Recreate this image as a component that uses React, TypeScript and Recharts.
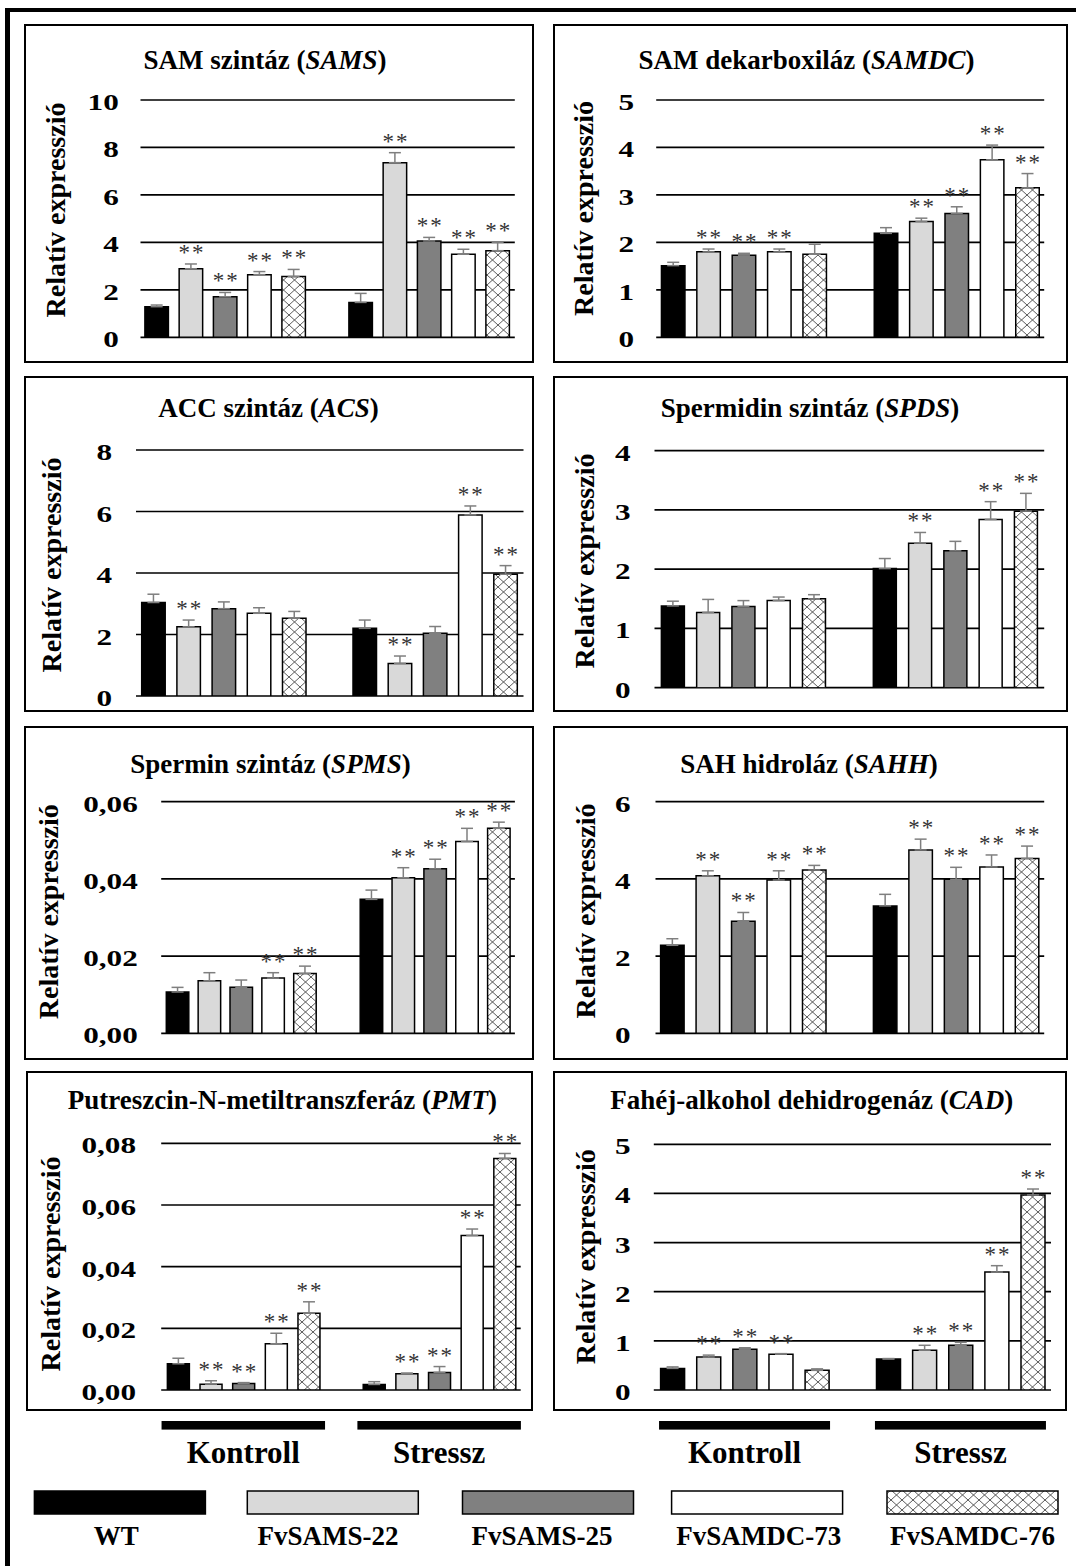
import React from "react";
import { Bar, BarChart, CartesianGrid, ErrorBar, XAxis, YAxis } from "recharts";

const FONT = '"Liberation Serif", "Times New Roman", serif';

const GROUPS = ["Kontroll", "Stressz"];
const SERIES = ["WT", "FvSAMS-22", "FvSAMS-25", "FvSAMDC-73", "FvSAMDC-76"];
const SERIES_FILLS = ["#000000", "#d9d9d9", "#808080", "#ffffff", "hatch"];

// SAM szintáz (SAMS)
const samsKontroll = [1.29, 2.89, 1.71, 2.64, 2.56];
const samsKontrollErr = [0.07, 0.2, 0.18, 0.13, 0.3];
const samsKontrollSig = [0, 1, 1, 1, 1];
const samsStressz = [1.47, 7.36, 4.06, 3.5, 3.65];
const samsStresszErr = [0.38, 0.42, 0.15, 0.21, 0.35];
const samsStresszSig = [0, 1, 1, 1, 1];
const samsTicks = [0, 2, 4, 6, 8, 10];

// SAM dekarboxiláz (SAMDC)
const samdcKontroll = [1.51, 1.8, 1.73, 1.8, 1.75];
const samdcKontrollErr = [0.07, 0.06, 0.04, 0.06, 0.21];
const samdcKontrollSig = [0, 1, 1, 1, 0];
const samdcStressz = [2.19, 2.44, 2.61, 3.74, 3.15];
const samdcStresszErr = [0.12, 0.07, 0.14, 0.31, 0.3];
const samdcStresszSig = [0, 1, 1, 1, 1];
const samdcTicks = [0, 1, 2, 3, 4, 5];

// ACC szintáz (ACS)
const acsKontroll = [3.04, 2.25, 2.84, 2.69, 2.53];
const acsKontrollErr = [0.27, 0.22, 0.22, 0.18, 0.22];
const acsKontrollSig = [0, 1, 0, 0, 0];
const acsStressz = [2.2, 1.06, 2.04, 5.89, 3.96];
const acsStresszErr = [0.27, 0.24, 0.22, 0.29, 0.28];
const acsStresszSig = [0, 1, 0, 1, 1];
const acsTicks = [0, 2, 4, 6, 8];

// Spermidin szintáz (SPDS)
const spdsKontroll = [1.38, 1.27, 1.37, 1.47, 1.5];
const spdsKontrollErr = [0.08, 0.22, 0.1, 0.06, 0.07];
const spdsKontrollSig = [0, 0, 0, 0, 0];
const spdsStressz = [2.01, 2.44, 2.31, 2.84, 2.98];
const spdsStresszErr = [0.17, 0.18, 0.16, 0.3, 0.3];
const spdsStresszSig = [0, 1, 0, 1, 1];
const spdsTicks = [0, 1, 2, 3, 4];

// Spermin szintáz (SPMS)
const spmsKontroll = [0.0107, 0.0136, 0.0119, 0.0143, 0.0155];
const spmsKontrollErr = [0.0012, 0.0021, 0.0019, 0.0014, 0.0019];
const spmsKontrollSig = [0, 0, 0, 1, 1];
const spmsStressz = [0.0347, 0.0403, 0.0426, 0.0497, 0.0531];
const spmsStresszErr = [0.0024, 0.0026, 0.0025, 0.0034, 0.0016];
const spmsStresszSig = [0, 1, 1, 1, 1];
const spmsTicks = [0, 0.02, 0.04, 0.06];

// SAH hidroláz (SAHH)
const sahhKontroll = [2.28, 4.08, 2.9, 3.97, 4.23];
const sahhKontrollErr = [0.17, 0.13, 0.23, 0.24, 0.12];
const sahhKontrollSig = [0, 1, 1, 1, 1];
const sahhStressz = [3.3, 4.75, 3.99, 4.31, 4.53];
const sahhStresszErr = [0.3, 0.28, 0.31, 0.31, 0.32];
const sahhStresszSig = [0, 1, 1, 1, 1];
const sahhTicks = [0, 2, 4, 6];

// Putreszcin-N-metiltranszferáz (PMT)
const pmtKontroll = [0.0085, 0.0019, 0.0021, 0.015, 0.0249];
const pmtKontrollErr = [0.0018, 0.0011, 0.0003, 0.0034, 0.0037];
const pmtKontrollSig = [0, 1, 1, 1, 1];
const pmtStressz = [0.0018, 0.0053, 0.0057, 0.0501, 0.0751];
const pmtStresszErr = [0.0009, 0.0002, 0.0019, 0.0021, 0.0016];
const pmtStresszSig = [0, 1, 1, 1, 1];
const pmtTicks = [0, 0.02, 0.04, 0.06, 0.08];

// Fahéj-alkohol dehidrogenáz (CAD)
const cadKontroll = [0.44, 0.67, 0.83, 0.73, 0.4];
const cadKontrollErr = [0.03, 0.04, 0.03, 0.01, 0.03];
const cadKontrollSig = [0, 1, 1, 1, 0];
const cadStressz = [0.63, 0.81, 0.91, 2.4, 3.97];
const cadStresszErr = [0.01, 0.1, 0.06, 0.13, 0.12];
const cadStresszSig = [0, 1, 1, 1, 1];
const cadTicks = [0, 1, 2, 3, 4, 5];

// layout of each panel, page pixels: box = border, plot = grid area
const PANELS = [
  { id: "sams", title: ["SAM szintáz (", "SAMS", ")"], k: samsKontroll, ke: samsKontrollErr, ks: samsKontrollSig, s: samsStressz, se: samsStresszErr, ss: samsStresszSig, ticks: samsTicks, comma: false,
    box: [25, 25, 533, 362], plot: [140.5, 100, 514.8, 337.3], centers: [224.9, 428.9], barW: 23.5, groupW: 160.5, tickRight: 118.8, yLabel: [60.3, 210], titleAt: [265, 68.5] },
  { id: "samdc", title: ["SAM dekarboxiláz (", "SAMDC", ")"], k: samdcKontroll, ke: samdcKontrollErr, ks: samdcKontrollSig, s: samdcStressz, se: samdcStresszErr, ss: samdcStresszSig, ticks: samdcTicks, comma: false,
    box: [554, 25, 1067, 362], plot: [656.2, 100, 1044.2, 337.3], centers: [743.85, 956.65], barW: 23.5, groupW: 165, tickRight: 634, yLabel: [587.9, 208.5], titleAt: [806.6, 68.5] },
  { id: "acs", title: ["ACC szintáz (", "ACS", ")"], k: acsKontroll, ke: acsKontrollErr, ks: acsKontrollSig, s: acsStressz, se: acsStresszErr, ss: acsStresszSig, ticks: acsTicks, comma: false,
    box: [25, 377, 533, 711], plot: [136, 450, 523.5, 696], centers: [224.35, 435.65], barW: 23.5, groupW: 164.3, tickRight: 112, yLabel: [55.8, 565], titleAt: [268.6, 417] },
  { id: "spds", title: ["Spermidin szintáz (", "SPDS", ")"], k: spdsKontroll, ke: spdsKontrollErr, ks: spdsKontrollSig, s: spdsStressz, se: spdsStresszErr, ss: spdsStresszSig, ticks: spdsTicks, comma: false,
    box: [554, 377, 1067, 711], plot: [654.5, 450.7, 1044.2, 687.7], centers: [743.35, 955.3], barW: 23, groupW: 164.1, tickRight: 630.6, yLabel: [588.5, 561], titleAt: [810, 417] },
  { id: "spms", title: ["Spermin szintáz (", "SPMS", ")"], k: spmsKontroll, ke: spmsKontrollErr, ks: spmsKontrollSig, s: spmsStressz, se: spmsStresszErr, ss: spmsStresszSig, ticks: spmsTicks, comma: true,
    box: [25, 727, 533, 1059], plot: [161.2, 801.7, 514.9, 1033.3], centers: [241.25, 435.15], barW: 22.5, groupW: 149.9, tickRight: 137.8, yLabel: [53.4, 911.7], titleAt: [270.4, 773] },
  { id: "sahh", title: ["SAH hidroláz (", "SAHH", ")"], k: sahhKontroll, ke: sahhKontrollErr, ks: sahhKontrollSig, s: sahhStressz, se: sahhStresszErr, ss: sahhStresszSig, ticks: sahhTicks, comma: false,
    box: [554, 727, 1067, 1059], plot: [655.5, 801.7, 1044.2, 1033.3], centers: [743, 955.8], barW: 23.5, groupW: 165.4, tickRight: 630.6, yLabel: [589.6, 911], titleAt: [809, 773] },
  { id: "pmt", title: ["Putreszcin-N-metiltranszferáz (", "PMT", ")"], k: pmtKontroll, ke: pmtKontrollErr, ks: pmtKontrollSig, s: pmtStressz, se: pmtStresszErr, ss: pmtStresszSig, ticks: pmtTicks, comma: true,
    box: [27, 1072, 532, 1410], plot: [161.2, 1143.3, 520.7, 1390], centers: [243.3, 439.15], barW: 22, groupW: 152.6, tickRight: 136, yLabel: [55, 1264], titleAt: [282.4, 1109], groupBarW: 163.5 },
  { id: "cad", title: ["Fahéj-alkohol dehidrogenáz (", "CAD", ")"], k: cadKontroll, ke: cadKontrollErr, ks: cadKontrollSig, s: cadStressz, se: cadStresszErr, ss: cadStresszSig, ticks: cadTicks, comma: false,
    box: [554, 1072, 1066, 1410], plot: [653.8, 1144.3, 1051, 1390], centers: [744.55, 960.45], barW: 24, groupW: 168.5, tickRight: 630.6, yLabel: [589.6, 1256.7], titleAt: [811.8, 1109], groupBarW: 171 },
];

const LEGEND_X = [34.4, 247.3, 462.5, 671.6, 887];
const LEGEND_LABEL_X = [116.2, 328, 542, 758.8, 972.4];
const GROUP_BAR_Y = 1421;
const GROUP_LABEL_Y = 1462.7;
const CHART_BOTTOM_WITH_GROUPS = 1475;

function buildRows(p) {
  return GROUPS.map((g, gi) => {
    const vals = gi === 0 ? p.k : p.s;
    const errs = gi === 0 ? p.ke : p.se;
    const sig = gi === 0 ? p.ks : p.ss;
    const row: any = { group: g };
    SERIES.forEach((_, i) => {
      row[`s${i}`] = vals[i];
      row[`s${i}e`] = [0, errs[i]];
      row[`s${i}sig`] = sig[i];
    });
    return row;
  });
}

function Hatch({ id }: { id: string }) {
  return (
    <pattern id={id} patternUnits="userSpaceOnUse" width={11} height={10}>
      <rect width={11} height={10} fill="#fff" />
      <path d="M0,0 L11,10 M11,0 L0,10" stroke="#4a4a4a" strokeWidth={0.9} />
    </pattern>
  );
}

function starLabel(rows, key) {
  return (props: any) => {
    const vb = props.viewBox || {};
    const x = vb.x ?? props.x;
    const y = vb.y ?? props.y;
    const width = vb.width ?? props.width;
    const height = Math.abs(vb.height ?? props.height);
    let idx = props.index;
    if (idx === undefined) idx = rows.findIndex((r) => r[key] === props.value);
    const row = rows[idx];
    if (!row || !row[`${key}sig`]) return null;
    const pxPerUnit = height / row[key];
    const top = y - row[`${key}e`][1] * pxPerUnit;
    return (
      <text
        x={x + width / 2 + 1}
        y={top - 4}
        textAnchor="middle"
        fontSize={23}
        letterSpacing={2}
        fill="#333"
        fontFamily={FONT}
      >
        **
      </text>
    );
  };
}

function Panel({ p }) {
  const [bl, bt, br, bb] = p.box;
  const [pl, pt, pr, pb] = p.plot;
  const hasGroups = !!p.groupBarW;
  const chartBottom = hasGroups ? CHART_BOTTOM_WITH_GROUPS : bb;
  const band = p.centers[1] - p.centers[0];
  const padL = p.centers[0] - band / 2 - pl;
  const padR = pr - (p.centers[1] + band / 2);
  const gap = (p.groupW - 5 * p.barW) / 4;
  const rows = buildRows(p);
  const hatchId = `hatch-${p.id}`;
  const tickRight = p.tickRight - bl;
  const max = p.ticks[p.ticks.length - 1];

  const yTick = (props: any) => {
    const v = props.payload.value;
    const label = p.comma ? v.toFixed(2).replace(".", ",") : String(v);
    return (
      <g transform={`translate(${tickRight},${props.y + 10})`}>
        <text transform="scale(1.3,1)" textAnchor="end" fontSize={24} fontWeight="bold" fontFamily={FONT} fill="#000">
          {label}
        </text>
      </g>
    );
  };

  const xTick = (props: any) => {
    const w = p.groupBarW;
    return (
      <g>
        <rect x={props.x - w / 2} y={GROUP_BAR_Y - bt} width={w} height={8.6} fill="#000" />
        <text x={props.x} y={GROUP_LABEL_Y - bt} textAnchor="middle" fontSize={31} fontWeight="bold" fontFamily={FONT} fill="#000">
          {props.payload.value}
        </text>
      </g>
    );
  };

  return (
    <>
      <div
        style={{
          position: "absolute",
          left: bl - 1,
          top: bt - 1,
          width: br - bl + 2,
          height: bb - bt + 2,
          border: "2px solid #000",
          boxSizing: "border-box",
        }}
      />
      <div style={{ position: "absolute", left: bl, top: bt }}>
        <BarChart
          width={br - bl}
          height={chartBottom - bt}
          data={rows}
          barGap={gap}
          margin={{ top: pt - bt, right: br - pr, bottom: hasGroups ? 0 : bb - pb, left: 0 }}
        >
          <defs>
            <Hatch id={hatchId} />
          </defs>
          <CartesianGrid vertical={false} stroke="#000" strokeWidth={1.7} />
          <XAxis
            dataKey="group"
            hide={!hasGroups}
            height={chartBottom - pb}
            padding={{ left: padL, right: padR }}
            axisLine={false}
            tickLine={false}
            interval={0}
            tick={xTick}
          />
          <YAxis
            type="number"
            domain={[0, max]}
            ticks={p.ticks}
            allowDataOverflow
            interval={0}
            width={pl - bl}
            axisLine={false}
            tickLine={false}
            tick={yTick}
          />
          {SERIES.map((name, i) => (
            <Bar
              key={name}
              dataKey={`s${i}`}
              name={name}
              barSize={p.barW}
              fill={SERIES_FILLS[i] === "hatch" ? `url(#${hatchId})` : SERIES_FILLS[i]}
              stroke="#000"
              strokeWidth={1.5}
              isAnimationActive={false}
              label={starLabel(rows, `s${i}`)}
            >
              <ErrorBar
                dataKey={`s${i}e`}
                width={6}
                stroke="#7f7f7f"
                strokeWidth={1.5}
                direction="y"
                isAnimationActive={false}
              />
            </Bar>
          ))}
        </BarChart>
      </div>
    </>
  );
}

function Overlay() {
  return (
    <svg
      width={1076}
      height={1566}
      style={{ position: "absolute", left: 0, top: 0, pointerEvents: "none" }}
      fontFamily={FONT}
    >
      <defs>
        <Hatch id="hatch-legend" />
      </defs>
      {PANELS.map((p) => (
        <g key={p.id}>
          <text x={p.titleAt[0]} y={p.titleAt[1]} textAnchor="middle" fontSize={27} fontWeight="bold" fill="#000">
            {p.title[0]}
            <tspan fontStyle="italic">{p.title[1]}</tspan>
            {p.title[2]}
          </text>
          <text
            transform={`translate(${p.yLabel[0] + 5},${p.yLabel[1]}) rotate(-90)`}
            textAnchor="middle"
            fontSize={28}
            fontWeight="bold"
            fill="#000"
          >
            Relatív expresszió
          </text>
        </g>
      ))}
      {SERIES.map((name, i) => (
        <g key={name}>
          <rect
            x={LEGEND_X[i]}
            y={1491}
            width={171}
            height={23}
            fill={SERIES_FILLS[i] === "hatch" ? "url(#hatch-legend)" : SERIES_FILLS[i]}
            stroke="#000"
            strokeWidth={1.5}
          />
          <text x={LEGEND_LABEL_X[i]} y={1545} textAnchor="middle" fontSize={27} fontWeight="bold" fill="#000">
            {name}
          </text>
        </g>
      ))}
    </svg>
  );
}

export default function App() {
  return (
    <div
      style={{
        position: "absolute",
        left: 0,
        top: 0,
        width: 1076,
        height: 1566,
        background: "#fff",
        overflow: "hidden",
        fontFamily: FONT,
      }}
    >
      <div
        style={{
          position: "absolute",
          left: 5,
          top: 8,
          width: 1071,
          height: 1558,
          borderTop: "4px solid #000",
          borderLeft: "5px solid #000",
          boxSizing: "border-box",
        }}
      />
      {PANELS.map((p) => (
        <Panel key={p.id} p={p} />
      ))}
      <Overlay />
    </div>
  );
}
